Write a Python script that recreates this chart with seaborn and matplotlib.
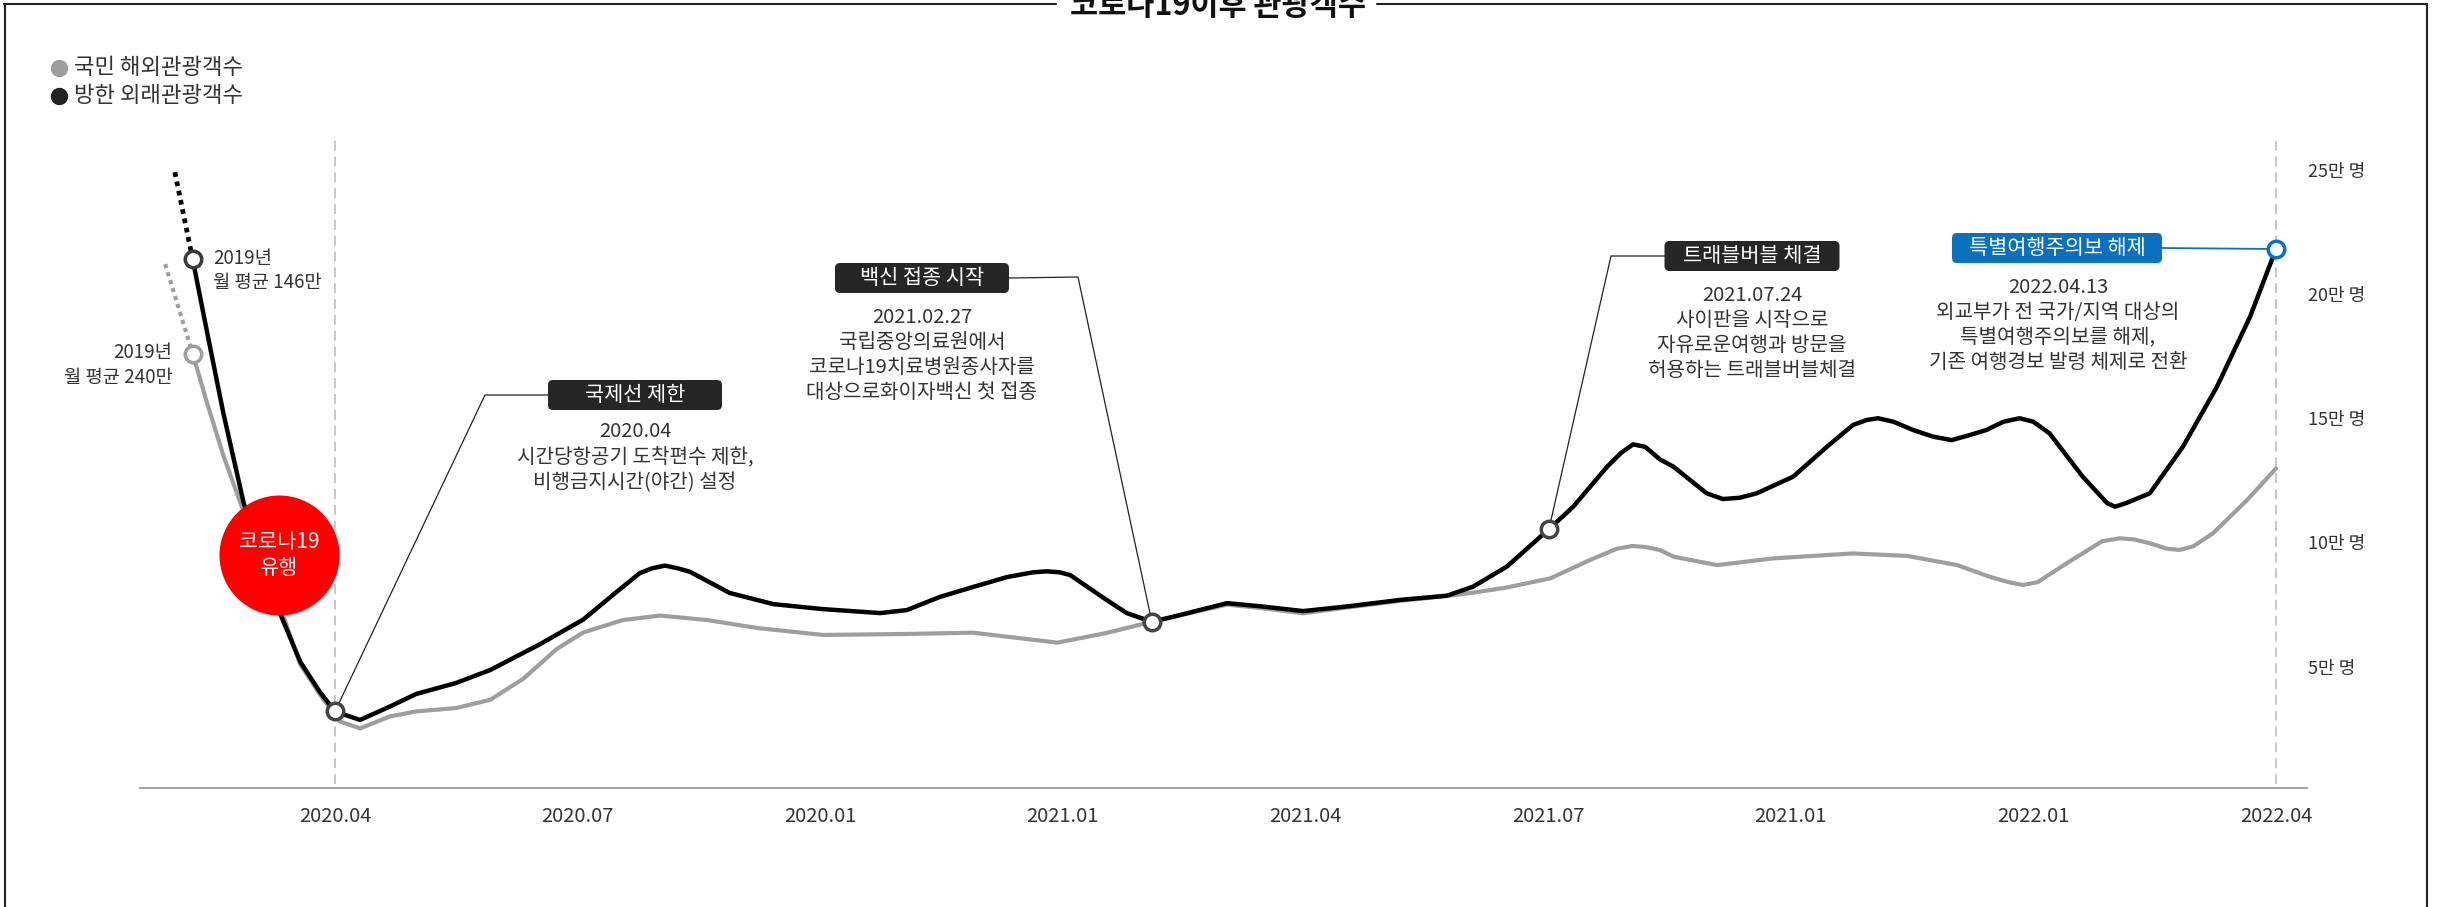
import matplotlib
matplotlib.use('Agg')
import matplotlib.pyplot as plt
import seaborn as sns
from matplotlib.lines import Line2D
from matplotlib.patches import FancyBboxPatch
from matplotlib.transforms import IdentityTransform

# x: 2020.04 기준 개월 수, y: 만 명 (그래프상 위치)
tick_months = [0, 3, 6, 9, 12, 15, 18, 21, 24]
tick_labels = ['2020.04', '2020.07', '2020.01', '2021.01', '2021.04',
               '2021.07', '2021.01', '2022.01', '2022.04']
ytick_vals = [5, 10, 15, 20, 25]
ytick_labels = ['5만 명', '10만 명', '15만 명', '20만 명', '25만 명']

# 방한 외래관광객수 (검정)
inbound_month = [-1.76, -1.59, -1.38, -1.13, -0.68, -0.43, -0.19, 0.0, 0.31, 0.68,
                 1.0, 1.5, 1.92, 2.53, 3.07, 3.44, 3.77, 3.92, 4.08, 4.24,
                 4.39, 4.88, 5.42, 6.03, 6.74, 7.07, 7.48, 7.89, 8.31, 8.63,
                 8.8, 8.96, 9.09, 9.54, 9.79, 10.1, 10.36, 11.03, 11.48, 11.97,
                 12.55, 13.17, 13.75, 14.07, 14.49, 15.01, 15.31, 15.73, 15.9, 16.05,
                 16.2, 16.38, 16.55, 16.96, 17.16, 17.37, 17.58, 18.03, 18.45, 18.77,
                 18.94, 19.08, 19.27, 19.51, 19.76, 19.99, 20.22, 20.42, 20.63, 20.83,
                 21.0, 21.2, 21.61, 21.91, 22.01, 22.15, 22.44, 22.85, 23.27, 23.68,
                 24.0]
inbound_val = [21.4, 18.6, 15.2, 11.6, 7.15, 5.2, 4.0, 3.2, 2.86, 3.4,
               3.9, 4.35, 4.87, 5.9, 6.9, 7.9, 8.77, 8.96, 9.07, 8.96,
               8.82, 7.97, 7.52, 7.32, 7.16, 7.28, 7.81, 8.21, 8.61, 8.8,
               8.84, 8.8, 8.69, 7.69, 7.16, 6.81, 7.01, 7.56, 7.42, 7.24,
               7.44, 7.69, 7.86, 8.22, 9.03, 10.54, 11.44, 13.05, 13.6, 13.95,
               13.85, 13.35, 13.05, 11.98, 11.75, 11.8, 11.98, 12.65, 13.86, 14.73,
               14.93, 15.0, 14.86, 14.53, 14.26, 14.12, 14.33, 14.53, 14.86, 15.0,
               14.86, 14.39, 12.65, 11.59, 11.44, 11.59, 11.98, 13.86, 16.27, 19.09,
               21.81]

# 국민 해외관광객수 (회색)
outbound_month = [-1.76, -1.59, -1.38, -1.17, -0.64, -0.43, -0.19, 0.06, 0.31, 0.68,
                  1.0, 1.5, 1.92, 2.33, 2.74, 3.07, 3.56, 4.02, 4.6, 5.22,
                  6.03, 7.07, 7.89, 8.31, 8.93, 9.54, 10.1, 10.36, 11.03, 11.48,
                  11.97, 12.55, 13.17, 13.75, 14.07, 14.49, 15.03, 15.52, 15.85, 16.04,
                  16.2, 16.38, 16.55, 17.09, 17.78, 18.77, 19.44, 20.06, 20.46, 20.7,
                  20.87, 21.05, 21.41, 21.85, 22.07, 22.25, 22.44, 22.65, 22.81, 22.98,
                  23.22, 23.64, 24.0]
outbound_val = [17.6, 15.7, 13.5, 11.6, 7.06, 5.1, 3.9, 2.8, 2.52, 3.0,
                3.2, 3.34, 3.67, 4.52, 5.71, 6.38, 6.88, 7.06, 6.88, 6.56,
                6.28, 6.32, 6.37, 6.21, 5.97, 6.36, 6.81, 7.0, 7.5, 7.35,
                7.15, 7.4, 7.65, 7.85, 7.98, 8.19, 8.56, 9.3, 9.75, 9.86,
                9.82, 9.7, 9.43, 9.09, 9.36, 9.56, 9.46, 9.09, 8.62, 8.4,
                8.29, 8.4, 9.16, 10.05, 10.17, 10.12, 9.97, 9.75, 9.7, 9.85,
                10.37, 11.7, 12.98]

# 2019년 월평균 (점선 구간)
inbound_pre_month = [-1.98, -1.76]
inbound_pre_val = [24.9, 21.4]
outbound_pre_month = [-2.1, -1.76]
outbound_pre_val = [21.2, 17.6]

# 주요 사건 (검정선 위 표시)
event_month = [0.0, 10.1, 15.01, 24.0]
event_val = [3.2, 6.81, 10.54, 21.81]
event_tags = ['국제선 제한', '백신 접종 시작', '트래블버블 체결', '특별여행주의보 해제']
event_notes = ['2020.04\n시간당항공기 도착편수 제한,\n비행금지시간(야간) 설정',
               '2021.02.27\n국립중앙의료원에서\n코로나19치료병원종사자를\n대상으로화이자백신 첫 접종',
               '2021.07.24\n사이판을 시작으로\n자유로운여행과 방문을\n허용하는 트래블버블체결',
               '2022.04.13\n외교부가 전 국가/지역 대상의\n특별여행주의보를 해제,\n기존 여행경보 발령 체제로 전환']

# 레이아웃 (픽셀)
W, H = 2440, 907
X0, XS = 335, 80.875
Y0, YS = 791, 24.85
tag_pos = [(635, 395), (922, 278), (1752, 256), (2057, 248)]
tag_w = [174, 174, 175, 210]
note_pos = [(635, 457), (922, 355), (1752, 333), (2058, 325)]
elbow = [(485, 395), (1078, 277), (1611, 256), None]
tag_colors = ['#262626', '#262626', '#262626', '#0a70c0']

sns.set_style('white')
plt.rcParams['font.family'] = ['Noto Sans CJK KR', 'DejaVu Sans']

fig = plt.figure(figsize=(W / 100, H / 100), dpi=100)
ax = fig.add_axes([140 / W, 1 - 788 / H, (2307 - 140) / W, (788 - 100) / H])
ax.set_xlim((140 - X0) / XS, (2307 - X0) / XS)
ax.set_ylim((Y0 - 788) / YS, (Y0 - 100) / YS)

# 기준 점선 (2020.04, 2022.04)
for m in [tick_months[0], tick_months[-1]]:
    ax.plot([m, m], [0.3, 26.4], color='#bdbdbd', lw=1.2, dashes=(6, 3.5), zorder=1)

sns.lineplot(x=outbound_pre_month, y=outbound_pre_val, ax=ax, color='#9e9e9e',
             linewidth=3.0, linestyle=(0, (1, 1)), estimator=None, sort=False, zorder=2)
sns.lineplot(x=inbound_pre_month, y=inbound_pre_val, ax=ax, color='black',
             linewidth=3.4, linestyle=(0, (1, 1)), estimator=None, sort=False, zorder=2)
sns.lineplot(x=outbound_month, y=outbound_val, ax=ax, color='#9e9e9e', linewidth=3.0,
             estimator=None, sort=False, zorder=3,
             solid_capstyle='round', solid_joinstyle='round')
sns.lineplot(x=inbound_month, y=inbound_val, ax=ax, color='black', linewidth=3.2,
             estimator=None, sort=False, zorder=4,
             solid_capstyle='round', solid_joinstyle='round')

# 코로나19 유행 원
covid_m, covid_v = -0.69, 9.5
sns.scatterplot(x=[covid_m], y=[covid_v], ax=ax, s=7465, color='#ff0000',
                linewidth=0, zorder=5)
ax.text(covid_m, covid_v, '코로나19\n유행', ha='center', va='center', color='white',
        fontsize=15, linespacing=1.2, zorder=6)

# 2019 월평균 원
sns.scatterplot(x=[inbound_month[0]], y=[inbound_val[0]], ax=ax, s=141, color='white',
                edgecolor='#3a3a3a', linewidth=2.5, zorder=7)
sns.scatterplot(x=[outbound_month[0]], y=[outbound_val[0]], ax=ax, s=141, color='white',
                edgecolor='#9e9e9e', linewidth=2.5, zorder=7)
ax.text(inbound_month[0] + 0.25, inbound_val[0] + 0.45, '2019년\n월 평균 146만', ha='left',
        va='top', fontsize=13.5, color='#333333', linespacing=1.2)
ax.text(outbound_month[0] - 0.25, outbound_val[0] + 0.45, '2019년\n월 평균 240만', ha='right',
        va='top', fontsize=13.5, color='#333333', linespacing=1.2)

# 사건 원
sns.scatterplot(x=event_month[:3], y=event_val[:3], ax=ax, s=141, color='white',
                edgecolor='#444444', linewidth=2.5, zorder=7)
sns.scatterplot(x=event_month[3:], y=event_val[3:], ax=ax, s=141, color='white',
                edgecolor='#0a70c0', linewidth=2.5, zorder=7)

ident = IdentityTransform()
for i, tag in enumerate(event_tags):
    cx, cy = tag_pos[i]
    w, h = tag_w[i], 30
    box = FancyBboxPatch((cx - w / 2, H - cy - h / 2), w, h,
                         boxstyle='round,pad=0,rounding_size=5',
                         fc=tag_colors[i], ec='none', transform=ident)
    fig.add_artist(box)
    fig.text(cx / W, 1 - cy / H, tag, ha='center', va='center', color='white', fontsize=15)
    nx, ny = note_pos[i]
    fig.text(nx / W, 1 - ny / H, event_notes[i], ha='center', va='center',
             color='#333333', fontsize=14.5, linespacing=1.27)
    mx, my = ax.transData.transform((event_month[i], event_val[i]))
    if elbow[i] is not None:
        ex, ey = elbow[i]
        side = cx - w / 2 if ex < cx else cx + w / 2
        xs, ys = [side, ex, mx], [H - cy, H - ey, my]
        lc, lw = '#222222', 0.9
    else:
        xs, ys = [cx + w / 2, mx], [H - cy, my]
        lc, lw = '#0a70c0', 1.3
    leader = Line2D(xs, ys, color=lc, lw=lw, transform=ident, zorder=3.5)
    ax.add_artist(leader)
    leader.set_clip_on(False)

# 축
ax.set_xticks(tick_months)
ax.set_xticklabels(tick_labels)
ax.yaxis.tick_right()
ax.set_yticks(ytick_vals)
ax.set_yticklabels(ytick_labels)
ax.tick_params(axis='x', length=0, pad=13, labelsize=14.5, labelcolor='#333333')
ax.tick_params(axis='y', length=0, pad=1, labelsize=13, labelcolor='#333333')
for s in ['top', 'right', 'left']:
    ax.spines[s].set_visible(False)
ax.spines['bottom'].set_color('#999999')
ax.spines['bottom'].set_linewidth(1.3)
ax.set_xlabel('')
ax.set_ylabel('')

# 범례
legend_items = [('국민 해외관광객수', '#9e9e9e', 68), ('방한 외래관광객수', '#222222', 96)]
for label, c, y in legend_items:
    fig.add_artist(Line2D([59 / W], [1 - y / H], marker='o', ms=11.5, color=c,
                          linestyle='none', transform=fig.transFigure))
    fig.text(74 / W, 1 - y / H, label, ha='left', va='center', fontsize=16, color='#333333')

# 제목 및 테두리
fig.text(1218 / W, 1 - 15 / H, '코로나19이후 관광객수', ha='center', va='baseline',
         fontsize=22, fontweight='bold', color='#111111')
frame = [([4, 1056], [3.5, 3.5]), ([1377, 2427], [3.5, 3.5]),
         ([4.5, 4.5], [3.5, 907]), ([2427, 2427], [3.5, 907])]
for xs, ys in frame:
    fig.add_artist(Line2D([x / W for x in xs], [1 - y / H for y in ys], color='#222222',
                          lw=1.5, transform=fig.transFigure))

fig.savefig('out.png', dpi=100, facecolor='white')
